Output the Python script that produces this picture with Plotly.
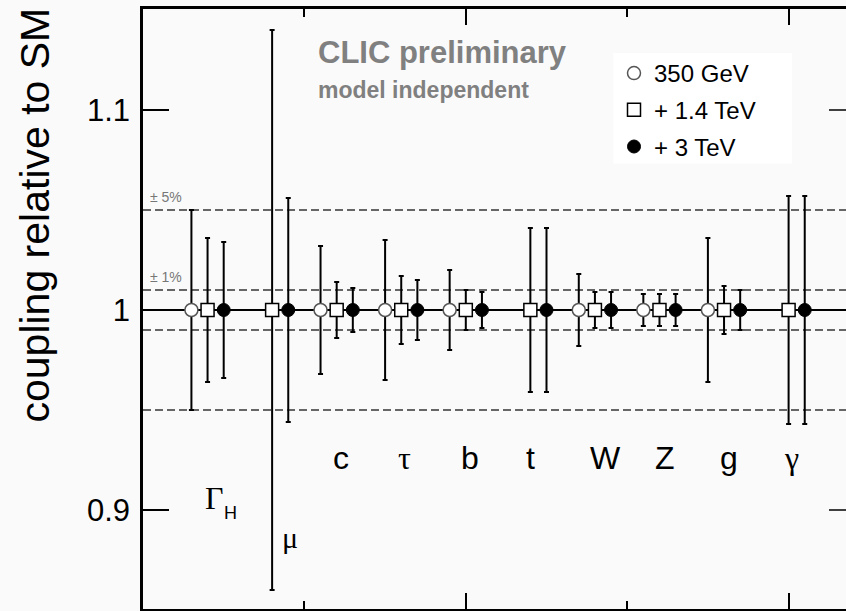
import plotly.graph_objects as go

# ---- data ----
couplings = ["Γ_H", "μ", "c", "τ", "b", "t", "W", "Z", "g", "γ"]
err_350 = [5.0, None, 3.2, 3.5, 2.0, None, 1.8, 0.8, 3.6, None]      # % uncertainty, 350 GeV
err_1400 = [3.6, 14.0, 1.4, 1.7, 1.0, 4.1, 0.9, 0.8, 1.2, 5.7]       # % uncertainty, + 1.4 TeV
err_3000 = [3.4, 5.6, 1.1, 1.5, 0.9, 4.1, 0.9, 0.8, 1.0, 5.7]        # % uncertainty, + 3 TeV
central = 1.0
series_names = ["350 GeV", "+ 1.4 TeV", "+ 3 TeV"]
y_tickvals = [0.9, 1.0, 1.1]
y_ticktext = ["0.9", "1", "1.1"]
band_levels = [0.05, 0.01]   # ±5 %, ±1 %

SANS = "Liberation Sans, Arial, sans-serif"
SERIF = "Liberation Serif, Times New Roman, serif"
BG = "#fafafa"

idx = list(range(len(couplings)))
offsets = [-0.25, 0.0, 0.25]
all_errs = [err_350, err_1400, err_3000]

markers = [
    dict(symbol="circle", size=13, color="white", line=dict(color="#555555", width=1.5)),
    dict(symbol="square", size=13, color="white", line=dict(color="black", width=1.5)),
    dict(symbol="circle", size=13, color="black", line=dict(color="black", width=1)),
]

fig = go.Figure()
for name, errs, off, mk in zip(series_names, all_errs, offsets, markers):
    xs, ys, es = [], [], []
    for i, e in zip(idx, errs):
        if e is None:
            continue
        xs.append(i + off)
        ys.append(central)
        es.append(e / 100.0)
    fig.add_trace(go.Scatter(
        x=xs, y=ys, mode="markers", name=name, marker=mk, legendgroup=name,
        error_y=dict(type="data", array=es, visible=True, color="black",
                     thickness=2, width=2.5),
    ))

# reference lines
shapes = []
for lvl in band_levels:
    for s in (1, -1):
        shapes.append(dict(type="line", xref="paper", x0=0, x1=1, yref="y",
                           y0=central + s * lvl, y1=central + s * lvl,
                           line=dict(color="#666666", width=2, dash="8px,4px"),
                           layer="below"))
shapes.append(dict(type="line", xref="paper", x0=0, x1=1, yref="y",
                   y0=central, y1=central, line=dict(color="black", width=2),
                   layer="below"))
# right-hand inward tick marks (frame's right edge lies just outside the window)
for tv in (0.9, 1.1):
    shapes.append(dict(type="line", xref="paper", x0=(829 - 143) / 703, x1=1.0,
                       yref="y", y0=tv, y1=tv, line=dict(color="black", width=1.5)))
# white legend panel
shapes.append(dict(type="rect", xref="paper", yref="paper",
                   x0=(613.5 - 143) / 703, x1=(792 - 143) / 703,
                   y0=1 - (163.5 - 9) / 600, y1=1 - (53 - 9) / 600,
                   fillcolor="white", line=dict(width=0), layer="above"))

# coupling labels
label_off = [0.21, 0.27, 0.07, 0.05, 0.06, 0.0, 0.17, 0.08, 0.07, 0.05]
annotations = []
for i, lab, lo in zip(idx, couplings, label_off):
    if lab == "Γ_H":
        annotations.append(dict(x=i + 0.11, y=1.0 - 0.094, xref="x", yref="y",
                                text="Γ", showarrow=False,
                                font=dict(family=SERIF, size=32, color="black")))
        annotations.append(dict(x=i + 0.355, y=1.0 - 0.1015, xref="x", yref="y",
                                text="H", showarrow=False,
                                font=dict(family=SANS, size=18, color="black")))
    elif lab == "μ":
        annotations.append(dict(x=i + lo, y=1.0 - 0.1135, xref="x", yref="y",
                                text="μ", showarrow=False,
                                font=dict(family=SERIF, size=30, color="black")))
    else:
        fam = SERIF if lab in ("τ", "γ") else SANS
        annotations.append(dict(x=i + lo, y=1.0 - 0.074, xref="x", yref="y",
                                text=lab, showarrow=False,
                                font=dict(family=fam, size=32, color="black")))

annotations += [
    dict(x=(317 - 208.3) / 64.56, y=1.1288, xref="x", yref="y", xanchor="left",
         text="<b>CLIC preliminary</b>", showarrow=False,
         font=dict(family=SANS, size=31, color="#808080")),
    dict(x=(317 - 208.3) / 64.56, y=1.1102, xref="x", yref="y", xanchor="left",
         text="<b>model independent</b>", showarrow=False,
         font=dict(family=SANS, size=23, color="#808080")),
    dict(x=(149 - 208.3) / 64.56, y=1.0563, xref="x", yref="y", xanchor="left",
         text="± 5%", showarrow=False, font=dict(family=SANS, size=14, color="#777777")),
    dict(x=(149 - 208.3) / 64.56, y=1.0163, xref="x", yref="y", xanchor="left",
         text="± 1%", showarrow=False, font=dict(family=SANS, size=14, color="#777777")),
    dict(x=(34 - 143) / 703, y=1 - (215.5 - 9) / 600, xref="paper", yref="paper",
         text="coupling relative to SM", textangle=-90, showarrow=False,
         xanchor="center", yanchor="middle",
         font=dict(family=SANS, size=41, color="black")),
]

fig.update_layout(
    width=846, height=611,
    margin=dict(l=143, r=0, t=9, b=2, pad=0),
    paper_bgcolor=BG, plot_bgcolor=BG,
    showlegend=True,
    legend=dict(x=(614 - 143) / 703, y=1 - (51 - 9) / 600, xanchor="left", yanchor="top",
                bgcolor="rgba(0,0,0,0)", borderwidth=0, tracegroupgap=2.5,
                font=dict(family=SANS, size=24, color="black")),
    shapes=shapes,
    annotations=annotations,
    xaxis=dict(range=[-1.0, -1.0 + 703 / 64.56], showgrid=False, zeroline=False,
               showticklabels=False, showline=True, linecolor="black", linewidth=2.5,
               mirror="ticks", ticks="inside", tickvals=[-1, 4, 9], ticklen=16,
               tickwidth=1.5, tickcolor="black",
               minor=dict(tickvals=[1.5, 6.5], ticks="inside", ticklen=8,
                          tickwidth=1.5, tickcolor="black")),
    yaxis=dict(range=[0.8505, 1.1505], showgrid=False, zeroline=False,
               showline=True, linecolor="black", linewidth=2.5, mirror=False,
               ticks="inside", ticklen=26, tickwidth=1.5, tickcolor="black",
               tickvals=y_tickvals, ticktext=y_ticktext,
               ticklabelstandoff=4,
               tickfont=dict(family=SANS, size=31, color="black")),
)

fig.write_html("out.html")
